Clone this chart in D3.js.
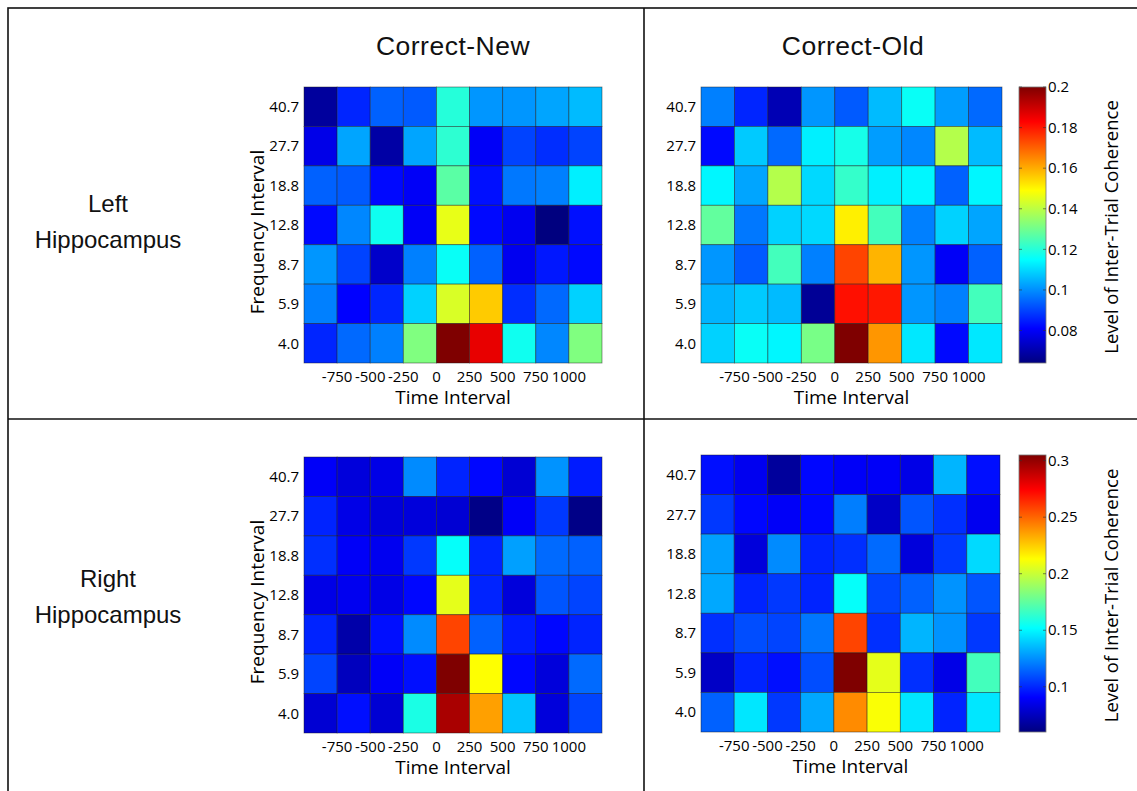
<!DOCTYPE html>
<html>
<head>
<meta charset="utf-8">
<script src="https://cdn.jsdelivr.net/npm/d3@7"></script>
<style>
  body { margin: 0; background: #fff; }
  svg { display: block; }
  .tick-label { font-family: "Open Sans", sans-serif; font-size: 15px; fill: #000; }
  .axis-title { font-family: "Open Sans", sans-serif; font-size: 19px; fill: #000; }
  .cbar-title { font-family: "Open Sans", sans-serif; font-size: 18.5px; fill: #000; }
  .panel-title { font-family: "Liberation Sans", Arial, sans-serif; font-size: 24px; fill: #111; }
  .col-title { font-size: 26.5px; letter-spacing: 0.5px; }
</style>
</head>
<body>
<svg id="chart" width="1137" height="791"></svg>
<script>
// rows top to bottom, columns are 250 ms bins starting at -1000
const freqLabels = ["40.7", "27.7", "18.8", "12.8", "8.7", "5.9", "4.0"]
const timeEdges = [-1000, -750, -500, -250, 0, 250, 500, 750, 1000]
const timeTicks = [-750, -500, -250, 0, 250, 500, 750, 1000]

const leftNew = [
    [0.068, 0.086, 0.094, 0.093, 0.120, 0.101, 0.101, 0.103, 0.106],
    [0.078, 0.103, 0.069, 0.103, 0.121, 0.080, 0.090, 0.087, 0.090],
    [0.094, 0.093, 0.082, 0.080, 0.127, 0.083, 0.097, 0.098, 0.113],
    [0.082, 0.099, 0.117, 0.080, 0.146, 0.082, 0.079, 0.064, 0.083],
    [0.101, 0.090, 0.074, 0.098, 0.116, 0.094, 0.079, 0.084, 0.082],
    [0.098, 0.081, 0.086, 0.109, 0.144, 0.156, 0.087, 0.095, 0.109],
    [0.086, 0.095, 0.098, 0.132, 0.200, 0.186, 0.117, 0.099, 0.132]
]
const leftOld = [
    [0.098, 0.086, 0.071, 0.101, 0.093, 0.106, 0.116, 0.102, 0.095],
    [0.082, 0.108, 0.095, 0.113, 0.118, 0.102, 0.099, 0.139, 0.106],
    [0.114, 0.103, 0.139, 0.110, 0.122, 0.113, 0.114, 0.094, 0.114],
    [0.128, 0.097, 0.109, 0.110, 0.151, 0.124, 0.098, 0.109, 0.103],
    [0.101, 0.093, 0.124, 0.098, 0.174, 0.159, 0.101, 0.080, 0.094],
    [0.105, 0.108, 0.106, 0.067, 0.181, 0.180, 0.101, 0.098, 0.124],
    [0.109, 0.116, 0.114, 0.131, 0.200, 0.163, 0.112, 0.082, 0.112]
]
const rightNew = [
    [0.089, 0.082, 0.085, 0.124, 0.099, 0.092, 0.080, 0.126, 0.097],
    [0.099, 0.085, 0.082, 0.082, 0.080, 0.062, 0.089, 0.104, 0.062],
    [0.102, 0.089, 0.087, 0.104, 0.153, 0.099, 0.129, 0.116, 0.114],
    [0.085, 0.087, 0.085, 0.092, 0.207, 0.099, 0.082, 0.111, 0.107],
    [0.099, 0.070, 0.094, 0.124, 0.258, 0.114, 0.097, 0.092, 0.099],
    [0.107, 0.075, 0.089, 0.094, 0.305, 0.213, 0.092, 0.082, 0.116],
    [0.080, 0.094, 0.080, 0.158, 0.295, 0.236, 0.138, 0.082, 0.107]
]
const rightOld = [
    [0.094, 0.087, 0.067, 0.092, 0.089, 0.089, 0.085, 0.134, 0.094],
    [0.104, 0.092, 0.089, 0.092, 0.121, 0.077, 0.111, 0.102, 0.087],
    [0.129, 0.082, 0.124, 0.099, 0.102, 0.116, 0.082, 0.104, 0.143],
    [0.131, 0.099, 0.104, 0.099, 0.153, 0.107, 0.114, 0.126, 0.111],
    [0.102, 0.109, 0.107, 0.119, 0.258, 0.102, 0.134, 0.126, 0.104],
    [0.077, 0.099, 0.094, 0.109, 0.305, 0.207, 0.102, 0.085, 0.168],
    [0.114, 0.146, 0.104, 0.131, 0.241, 0.212, 0.146, 0.099, 0.146]
]

const leftRange = [0.064, 0.2]
const leftTicks = [0.08, 0.1, 0.12, 0.14, 0.16, 0.18, 0.2]
const rightRange = [0.06, 0.305]
const rightTicks = [0.1, 0.15, 0.2, 0.25, 0.3]

const columnTitles = ["Correct-New", "Correct-Old"]
const rowTitles = [["Left", "Hippocampus"], ["Right", "Hippocampus"]]

// matlab jet
const jetStops = [0, 0.125, 0.375, 0.625, 0.875, 1]
const jetColors = ["#00007f", "#0000ff", "#00ffff", "#ffff00", "#ff0000", "#7f0000"]

const jet = (range) => {
    const t = d3.scaleLinear().domain(range).range([0, 1]).clamp(true)
    const c = d3.scaleLinear().domain(jetStops).range(jetColors).interpolate(d3.interpolateRgb)
    return v => c(t(v))
}

const svg = d3.select("#chart")

// frame
svg.append("g").attr("stroke", "#111").attr("stroke-width", 1.6).attr("fill", "none")
    .call(g => {
        g.append("rect").attr("x", 8).attr("y", 8).attr("width", 1140).attr("height", 800)
        g.append("line").attr("x1", 644).attr("x2", 644).attr("y1", 8).attr("y2", 800)
        g.append("line").attr("x1", 8).attr("x2", 1145).attr("y1", 419).attr("y2", 419)
    })

const panels = [
    {data: leftNew, range: leftRange, box: [304, 602, 87, 363], ylab: true},
    {data: leftOld, range: leftRange, box: [701, 1002, 87, 363], ylab: false},
    {data: rightNew, range: rightRange, box: [304, 602, 457, 733], ylab: true},
    {data: rightOld, range: rightRange, box: [701, 1000, 455, 732], ylab: false}
]

panels.forEach(p => {
    const [x0, x1, y0, y1] = p.box
    const x = d3.scaleLinear().domain([timeEdges[0], timeEdges[timeEdges.length - 1] + 250]).range([x0, x1])
    const y = d3.scaleBand().domain(freqLabels).range([y0, y1])
    const color = jet(p.range)
    const g = svg.append("g")

    const cells = p.data.flatMap((row, i) => row.map((v, j) => ({f: freqLabels[i], t: timeEdges[j], v})))
    g.selectAll("rect.cell").data(cells).join("rect")
        .attr("class", "cell")
        .attr("x", d => x(d.t))
        .attr("y", d => y(d.f))
        .attr("width", d => x(d.t + 250) - x(d.t))
        .attr("height", y.bandwidth())
        .attr("fill", d => color(d.v))
        .attr("stroke", "#1a1a1a")
        .attr("stroke-opacity", 0.55)
        .attr("stroke-width", 0.8)

    // y ticks
    g.selectAll("text.ytick").data(freqLabels).join("text")
        .attr("class", "tick-label ytick")
        .attr("x", x0 - 5)
        .attr("y", d => y(d) + y.bandwidth() / 2)
        .attr("dy", "0.35em")
        .attr("text-anchor", "end")
        .text(d => d)

    // x ticks at bin edges
    g.selectAll("text.xtick").data(timeTicks).join("text")
        .attr("class", "tick-label xtick")
        .attr("x", d => x(d))
        .attr("y", y1 + 19)
        .attr("text-anchor", "middle")
        .text(d => d)

    g.append("text").attr("class", "axis-title")
        .attr("x", (x0 + x1) / 2).attr("y", y1 + 41)
        .attr("text-anchor", "middle").text("Time Interval")

    if (p.ylab) {
        g.append("text").attr("class", "axis-title")
            .attr("transform", `translate(264,${(y0 + y1) / 2 + 7}) rotate(-90)`)
            .attr("text-anchor", "middle").text("Frequency Interval")
    }
})

// colorbars
const bars = [
    {range: leftRange, ticks: leftTicks, box: [1019, 1046, 87, 363], id: "gradTop"},
    {range: rightRange, ticks: rightTicks, box: [1019, 1046, 455, 732], id: "gradBot"}
]
const defs = svg.append("defs")

bars.forEach(b => {
    const [x0, x1, y0, y1] = b.box
    const grad = defs.append("linearGradient").attr("id", b.id)
        .attr("x1", 0).attr("y1", 1).attr("x2", 0).attr("y2", 0)
    grad.selectAll("stop").data(jetStops).join("stop")
        .attr("offset", d => d)
        .attr("stop-color", (d, i) => jetColors[i])

    const s = d3.scaleLinear().domain(b.range).range([y1, y0])
    const g = svg.append("g")
    g.append("rect").attr("x", x0).attr("y", y0).attr("width", x1 - x0).attr("height", y1 - y0)
        .attr("fill", `url(#${b.id})`).attr("stroke", "#777").attr("stroke-width", 0.8)

    g.selectAll("line.tl").data(b.ticks).join("line")
        .attr("x1", x0).attr("x2", x0 + 3)
        .attr("y1", d => s(d)).attr("y2", d => s(d))
        .attr("stroke", "#333").attr("stroke-opacity", 0.6)
    g.selectAll("line.tr").data(b.ticks).join("line")
        .attr("x1", x1 - 3).attr("x2", x1)
        .attr("y1", d => s(d)).attr("y2", d => s(d))
        .attr("stroke", "#333").attr("stroke-opacity", 0.6)

    g.selectAll("text").data(b.ticks).join("text")
        .attr("class", "tick-label")
        .attr("x", x1 + 2)
        .attr("y", d => s(d))
        .attr("dy", "0.35em")
        .text(d => d)

    g.append("text").attr("class", "cbar-title")
        .attr("transform", `translate(1118,${(y0 + y1) / 2 + 2}) rotate(-90)`)
        .attr("text-anchor", "middle").text("Level of Inter-Trial Coherence")
})

// panel titles
svg.selectAll("text.col-title").data(columnTitles).join("text")
    .attr("class", "panel-title col-title")
    .attr("x", (d, i) => i === 0 ? 453 : 853)
    .attr("y", 55)
    .attr("text-anchor", "middle")
    .text(d => d)

rowTitles.forEach((lines, i) => {
    svg.append("text").attr("class", "panel-title")
        .attr("text-anchor", "middle")
        .selectAll("tspan").data(lines).join("tspan")
        .attr("x", 108)
        .attr("y", (d, k) => (i === 0 ? 212 : 587) + k * 36)
        .text(d => d)
})
</script>
</body>
</html>
